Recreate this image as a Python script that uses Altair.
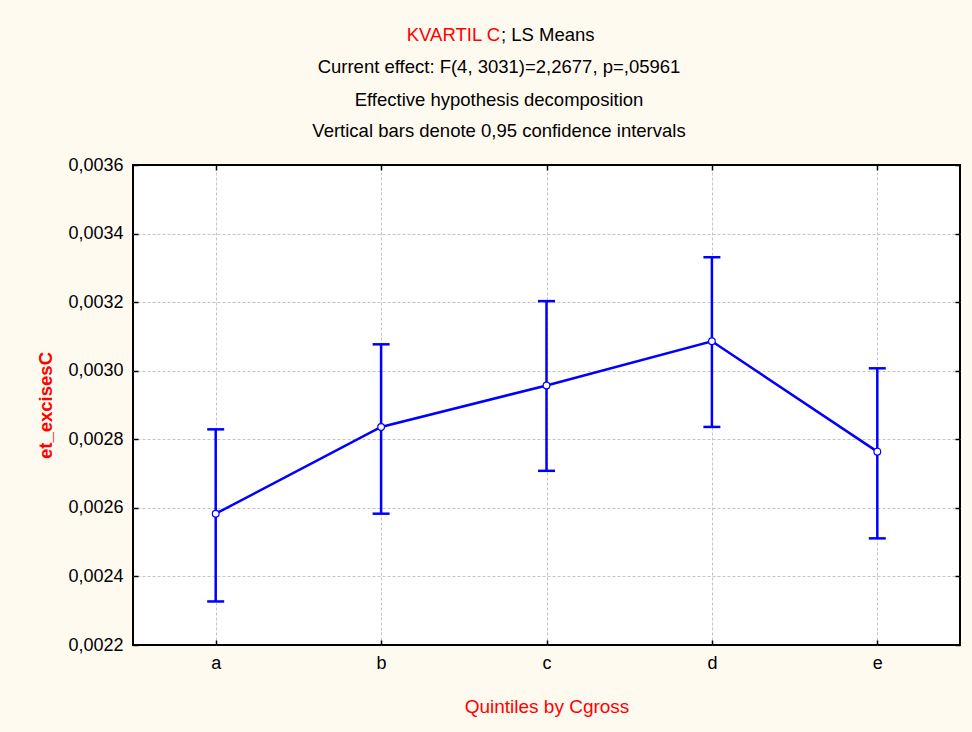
import altair as alt
import pandas as pd

categories = ["a", "b", "c", "d", "e"]
means = [0.002583, 0.002836, 0.002957, 0.003086, 0.002764]
upper = [0.002829, 0.003077, 0.003203, 0.003331, 0.003007]
lower = [0.002327, 0.002583, 0.002708, 0.002836, 0.002511]
y_ticks = [0.0022, 0.0024, 0.0026, 0.0028, 0.0030, 0.0032, 0.0034, 0.0036]
y_grid = [0.0024, 0.0026, 0.0028, 0.0030, 0.0032, 0.0034]

title_red = "KVARTIL C"
title_black = "; LS Means"
title_lines = [
    "Current effect: F(4, 3031)=2,2677, p=,05961",
    "Effective hypothesis decomposition",
    "Vertical bars denote 0,95 confidence intervals",
]
x_title = "Quintiles by Cgross"
y_title = "et_excisesC"

FONT = "Liberation Sans"
BLUE = "#0000FF"
RED = "#FF0000"
W, H = 827, 480
TFS = 18.5

df = pd.DataFrame({"q": categories, "m": means, "hi": upper, "lo": lower})

xscale = alt.Scale(type="point", padding=0.5, domain=categories)
yscale = alt.Scale(domain=[0.0022, 0.0036], nice=False, zero=False)

grid_kw = dict(grid=True, gridColor="#C4C4C4", gridDash=[3, 2], gridWidth=1)

x_axis = alt.Axis(
    title=x_title, titleColor=RED, titleFont=FONT, titleFontSize=19,
    titleFontWeight="normal", titleY=72, titleBaseline="alphabetic",
    labelFont=FONT, labelFontSize=18, labelColor="black", labelAngle=0,
    labelBaseline="alphabetic", labelPadding=23,
    domain=False, ticks=True, tickSize=5, tickColor="black", tickWidth=1.5,
    offset=-5, grid=False,
)
y_axis = alt.Axis(
    title=y_title, titleColor=RED, titleFont=FONT, titleFontSize=TFS,
    titleFontWeight="bold", titleX=-93, titleY=H / 2, titleAlign="center",
    titleBaseline="middle", titleAngle=270,
    labelFont=FONT, labelFontSize=18, labelColor="black", labelPadding=10,
    values=y_ticks,
    labelExpr="replace(format(datum.value, '.4f'), '.', ',')",
    domain=False, ticks=True, tickSize=5, tickColor="black", tickWidth=1.5,
    offset=-5, grid=False,
)

# inward ticks on top and right border, carrying the interior grid
tick_axis_kw = dict(labels=False, domain=False, title=None,
                    ticks=True, tickSize=5, tickColor="black", tickWidth=1.5, offset=-5)
mirror = alt.Chart(df).mark_point(opacity=0).encode(
    x=alt.X("q:N", scale=xscale, axis=alt.Axis(orient="top", **tick_axis_kw, **grid_kw)),
    y=alt.Y("m:Q", scale=yscale, axis=alt.Axis(orient="right", values=y_ticks, **tick_axis_kw)),
)
ygrid = alt.Chart(df).mark_point(opacity=0).encode(
    y=alt.Y("m:Q", scale=yscale,
            axis=alt.Axis(orient="right", values=y_grid, labels=False, domain=False,
                          title=None, ticks=False, **grid_kw)),
)

base = alt.Chart(df)
X = alt.X("q:N", scale=xscale, axis=x_axis)

rules = base.mark_rule(color=BLUE, strokeWidth=2.5).encode(
    x=X, y=alt.Y("lo:Q", scale=yscale, axis=y_axis), y2="hi:Q"
)
caps_hi = base.mark_tick(color=BLUE, size=17, thickness=2.5, opacity=1).encode(
    x=X, y=alt.Y("hi:Q", scale=yscale, axis=y_axis)
)
caps_lo = base.mark_tick(color=BLUE, size=17, thickness=2.5, opacity=1).encode(
    x=X, y=alt.Y("lo:Q", scale=yscale, axis=y_axis)
)
line = base.mark_line(color=BLUE, strokeWidth=2.5).encode(
    x=X, y=alt.Y("m:Q", scale=yscale, axis=y_axis)
)
points = base.mark_point(
    shape="circle", fill="white", fillOpacity=1, stroke=BLUE, strokeWidth=1.2,
    size=45, opacity=1,
).encode(x=X, y=alt.Y("m:Q", scale=yscale, axis=y_axis))

main = alt.layer(rules, caps_hi, caps_lo, line, points)

cx = 500 - 133
t_red = alt.Chart(alt.Data(values=[{"t": title_red}])).mark_text(
    font=FONT, fontSize=TFS, color=RED, align="right", baseline="middle"
).encode(text="t:N", x=alt.value(cx), y=alt.value(35 - 165))
t_black = alt.Chart(alt.Data(values=[{"t": title_black}])).mark_text(
    font=FONT, fontSize=TFS, color="black", align="left", baseline="middle"
).encode(text="t:N", x=alt.value(cx + 1), y=alt.value(35 - 165))

ys = [67, 100, 131]
t_lines = [
    alt.Chart(alt.Data(values=[{"t": s}])).mark_text(
        font=FONT, fontSize=TFS, color="black", align="center", baseline="middle"
    ).encode(text="t:N", x=alt.value(499 - 133), y=alt.value(yy - 165))
    for s, yy in zip(title_lines, ys)
]

chart = alt.layer(ygrid, mirror, main, t_red, t_black, *t_lines).resolve_axis(
    x="independent", y="independent"
).properties(
    width=W, height=H,
    autosize=alt.AutoSizeParams(type="none"),
    padding={"left": 133, "top": 165, "right": 12, "bottom": 87},
    background="#FFFAF0",
).configure_view(
    stroke="black", strokeWidth=2, fill="white"
)

chart.save("out.html", embed_options={"renderer": "svg", "actions": False})
